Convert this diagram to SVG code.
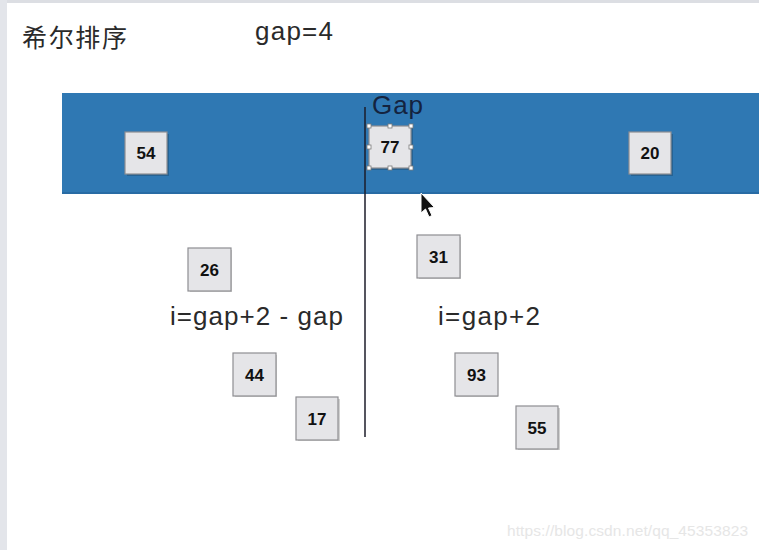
<svg xmlns="http://www.w3.org/2000/svg" width="759" height="550" viewBox="0 0 759 550">
<defs>
<style>
.box{fill:#e5e5e8;stroke:#8e8e92;stroke-width:1.2}
.shadow{fill:#000;opacity:0.18}
.num{font-family:"Liberation Sans",Arial,sans-serif;font-weight:bold;font-size:17px;fill:#111;text-anchor:middle}
.lbl{font-family:"Liberation Sans",Arial,sans-serif;font-size:26px;fill:#2a2a2a}
.handle{fill:#fff;stroke:#7a7a7a;stroke-width:0.8}
</style>
</defs>
<rect x="0" y="0" width="759" height="550" fill="#ffffff"/>
<rect x="0" y="0" width="759" height="3" fill="#dcdee3"/>
<rect x="0" y="0" width="7" height="550" fill="#e3e5ea"/>
<text x="22" y="47" font-family="Noto Sans CJK SC, sans-serif" font-size="25" fill="#2a2a2a" textLength="105" lengthAdjust="spacing">希尔排序</text>
<text class="lbl" x="255" y="40" textLength="78" lengthAdjust="spacing">gap=4</text>
<rect x="62" y="93" width="697" height="101" fill="#2f78b3"/>
<rect x="62" y="192" width="697" height="2" fill="#25629a" opacity="0.6"/>
<g id="connectors">
<line x1="365" y1="107" x2="365" y2="437" stroke="#1c1c2a" stroke-width="1.5"/>
</g>
<text x="372" y="114" font-family="Liberation Sans, Arial, sans-serif" font-size="26" fill="#14233f" textLength="51" lengthAdjust="spacing">Gap</text>
<g id="n54"><rect class="shadow" x="127" y="134" width="42" height="42"/><rect class="box" x="125" y="132" width="42" height="42"/><text class="num" x="146" y="159">54</text></g>
<g id="n77"><rect class="shadow" x="371" y="128" width="42" height="42"/><rect class="box" x="369" y="126" width="42" height="42"/><text class="num" x="390" y="153">77</text>
<rect class="handle" x="367" y="124" width="4" height="4"/><rect class="handle" x="388" y="124" width="4" height="4"/><rect class="handle" x="409" y="124" width="4" height="4"/>
<rect class="handle" x="367" y="145" width="4" height="4"/><rect class="handle" x="409" y="145" width="4" height="4"/>
<rect class="handle" x="367" y="166" width="4" height="4"/><rect class="handle" x="388" y="166" width="4" height="4"/><rect class="handle" x="409" y="166" width="4" height="4"/></g>
<g id="n20"><rect class="shadow" x="631" y="134" width="42" height="42"/><rect class="box" x="629" y="132" width="42" height="42"/><text class="num" x="650" y="159">20</text></g>
<g id="n26"><rect class="shadow" x="190" y="250" width="42" height="42"/><rect class="box" x="188" y="248" width="43" height="43"/><text class="num" x="209.5" y="276">26</text></g>
<g id="n31"><rect class="shadow" x="419" y="237" width="42" height="42"/><rect class="box" x="417" y="235" width="43" height="43"/><text class="num" x="438.5" y="263">31</text></g>
<g id="n44"><rect class="shadow" x="235" y="355" width="42" height="42"/><rect class="box" x="233" y="353" width="43" height="43"/><text class="num" x="254.5" y="381">44</text></g>
<g id="n17"><rect class="shadow" x="298" y="399" width="42" height="42"/><rect class="box" x="296" y="397" width="42" height="43"/><text class="num" x="317" y="425">17</text></g>
<g id="n93"><rect class="shadow" x="456" y="355" width="42" height="42"/><rect class="box" x="455" y="353" width="43" height="43"/><text class="num" x="476.5" y="381">93</text></g>
<g id="n55"><rect class="shadow" x="518" y="408" width="42" height="42"/><rect class="box" x="516" y="406" width="42" height="43"/><text class="num" x="537" y="434">55</text></g>
<text class="lbl" x="170" y="325" textLength="173" lengthAdjust="spacing">i=gap+2 - gap</text>
<text class="lbl" x="438" y="325" textLength="102" lengthAdjust="spacing">i=gap+2</text>
<path d="M421 193 L421 213 L425.5 209 L429 217 L432 215.5 L428.5 208 L434.5 207.5 Z" fill="#111" stroke="#fff" stroke-width="1"/>
<text x="507" y="536" font-family="Liberation Sans, Arial, sans-serif" font-size="15.5" fill="#e6e6e6" textLength="241" lengthAdjust="spacing">https://blog.csdn.net/qq_45353823</text>
</svg>
